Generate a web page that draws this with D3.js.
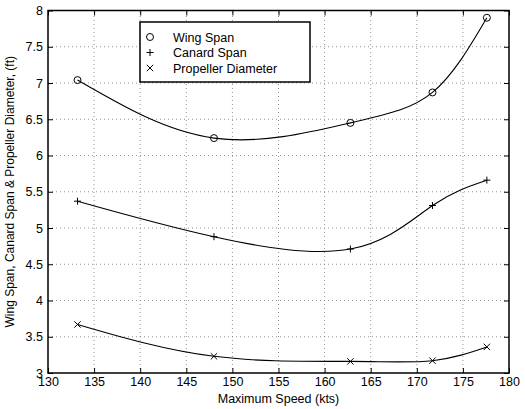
<!DOCTYPE html>
<html>
<head>
<meta charset="utf-8">
<script src="https://cdn.jsdelivr.net/npm/d3@7"></script>
<style>
  body { margin: 0; background: #fff; }
  svg { font-family: "Liberation Sans", Arial, sans-serif; }
</style>
</head>
<body>
<div id="chart"></div>
<script>
// speeds (kts) and sizes (ft)
const speeds = [133.2, 148.0, 162.8, 171.7, 177.6];
const wingSpan = [7.04, 6.24, 6.45, 6.87, 7.90];
const canardSpan = [5.37, 4.88, 4.71, 5.31, 5.66];
const propDiameter = [3.67, 3.23, 3.16, 3.17, 3.36];
const xTicks = [130, 135, 140, 145, 150, 155, 160, 165, 170, 175, 180];
const yTicks = [3, 3.5, 4, 4.5, 5, 5.5, 6, 6.5, 7, 7.5, 8];

const series = [
	{name: "Wing Span", values: wingSpan, marker: "circle"},
	{name: "Canard Span", values: canardSpan, marker: "plus"},
	{name: "Propeller Diameter", values: propDiameter, marker: "cross"}
];

const width = 525, height = 409;
const margin = {top: 10.5, right: 16, bottom: 36, left: 48};

const svg = d3.select("#chart").append("svg")
		.attr("width", width)
		.attr("height", height);

const x = d3.scaleLinear().domain([130, 180]).range([margin.left, width - margin.right]);
const y = d3.scaleLinear().domain([3, 8]).range([height - margin.bottom, margin.top]);

// dotted grid
const grid = svg.append("g")
		.attr("stroke", "#777")
		.attr("stroke-width", 0.8)
		.attr("stroke-dasharray", "1,3");
grid.selectAll("line.vx")
	.data(xTicks.slice(1, -1))
	.join("line")
		.attr("x1", d => x(d)).attr("x2", d => x(d))
		.attr("y1", y(3)).attr("y2", y(8));
grid.selectAll("line.hy")
	.data(yTicks.slice(1, -1))
	.join("line")
		.attr("class", "hy")
		.attr("x1", x(130)).attr("x2", x(180))
		.attr("y1", d => y(d)).attr("y2", d => y(d));

// axes, ticks pointing inwards like matlab
const fmt = d => String(d);
svg.append("g")
		.attr("transform", `translate(0,${y(3)})`)
		.call(d3.axisBottom(x).tickValues(xTicks).tickFormat(fmt).tickSizeInner(-5).tickSizeOuter(0).tickPadding(4));
svg.append("g")
		.attr("transform", `translate(0,${y(8)})`)
		.call(d3.axisTop(x).tickValues(xTicks).tickFormat("").tickSizeInner(-5).tickSizeOuter(0));
svg.append("g")
		.attr("transform", `translate(${x(130)},0)`)
		.call(d3.axisLeft(y).tickValues(yTicks).tickFormat(fmt).tickSizeInner(-5).tickSizeOuter(0).tickPadding(5));
svg.append("g")
		.attr("transform", `translate(${x(180)},0)`)
		.call(d3.axisRight(y).tickValues(yTicks).tickFormat("").tickSizeInner(-5).tickSizeOuter(0));

svg.selectAll(".tick text")
		.attr("font-size", 12.5)
		.attr("font-family", "Liberation Sans, Arial, sans-serif")
		.attr("fill", "#000");
svg.selectAll(".domain").remove();

svg.append("rect")
		.attr("x", x(130)).attr("y", y(8))
		.attr("width", x(180) - x(130)).attr("height", y(3) - y(8))
		.attr("fill", "none")
		.attr("stroke", "#000")
		.attr("stroke-width", 1.5);

// curves
const line = d3.line()
		.x((d, i) => x(speeds[i]))
		.y(d => y(d))
		.curve(d3.curveNatural);

svg.append("g")
	.selectAll("path")
	.data(series)
	.join("path")
		.attr("d", d => line(d.values))
		.attr("fill", "none")
		.attr("stroke", "#000")
		.attr("stroke-width", 1.1);

function drawMarker(g, type, cx, cy) {
	if (type === "circle") {
		g.append("circle").attr("cx", cx).attr("cy", cy).attr("r", 3.5)
			.attr("fill", "none").attr("stroke", "#000").attr("stroke-width", 1);
	} else if (type === "plus") {
		g.append("path").attr("d", `M${cx - 3.5},${cy}H${cx + 3.5}M${cx},${cy - 3.5}V${cy + 3.5}`)
			.attr("stroke", "#000").attr("stroke-width", 1);
	} else {
		g.append("path").attr("d", `M${cx - 3.2},${cy - 3.2}L${cx + 3.2},${cy + 3.2}M${cx - 3.2},${cy + 3.2}L${cx + 3.2},${cy - 3.2}`)
			.attr("stroke", "#000").attr("stroke-width", 1);
	}
}

const markers = svg.append("g");
series.forEach(s => {
	s.values.forEach((v, i) => drawMarker(markers, s.marker, x(speeds[i]), y(v)));
});

// legend
const legend = svg.append("g");
legend.append("rect")
		.attr("x", 140).attr("y", 22)
		.attr("width", 170).attr("height", 60)
		.attr("fill", "#fff")
		.attr("stroke", "#000")
		.attr("stroke-width", 1.5);
series.forEach((s, i) => {
	const ly = 37 + i * 15.5;
	drawMarker(legend, s.marker, 150, ly);
	legend.append("text")
			.attr("x", 173).attr("y", ly + 4.5)
			.attr("font-size", 12.5)
			.text(s.name);
});

// axis labels
svg.append("text")
		.attr("x", (x(130) + x(180)) / 2)
		.attr("y", 403)
		.attr("text-anchor", "middle")
		.attr("font-size", 12.5)
		.text("Maximum Speed (kts)");
svg.append("text")
		.attr("transform", `translate(14,${(y(3) + y(8)) / 2}) rotate(-90)`)
		.attr("text-anchor", "middle")
		.attr("font-size", 12)
		.text("Wing Span, Canard Span & Propeller Diameter, (ft)");
</script>
</body>
</html>
